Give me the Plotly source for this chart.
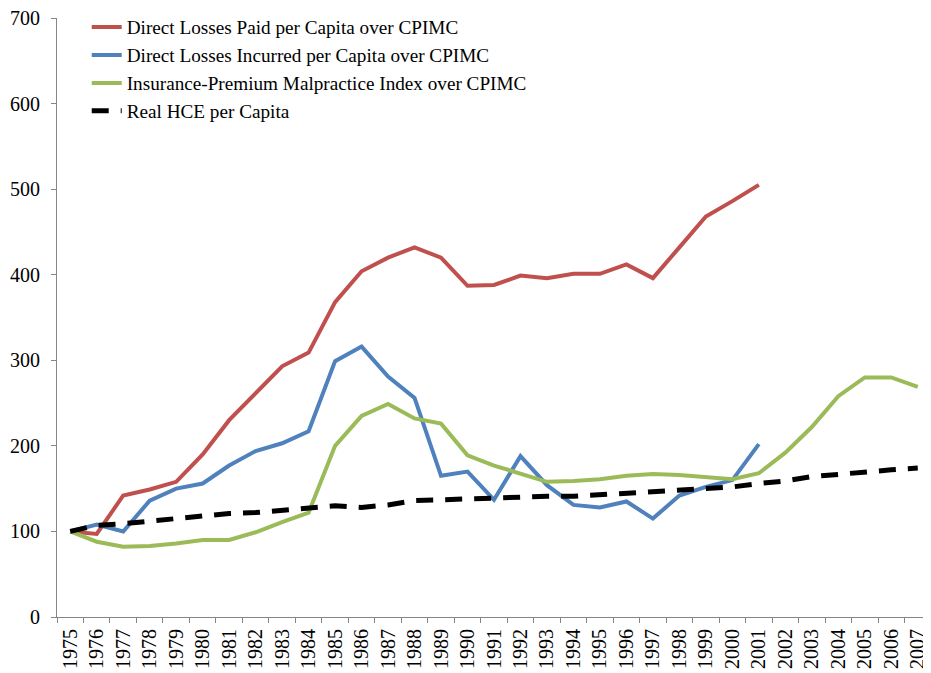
import plotly.graph_objects as go

years = [str(y) for y in range(1975, 2008)]

losses_paid = [100, 97, 142, 149, 158, 190, 230, 261, 293, 309, 368, 404, 420, 432, 420, 387, 388, 399, 396, 401, 401, 412, 396, 432, 468, 486, 505]
losses_incurred = [100, 108, 100, 136, 150, 156, 177, 194, 203, 217, 299, 316, 281, 256, 165, 170, 137, 188, 154, 131, 128, 135, 115, 142, 152, 160, 202]
premium_index = [100, 88, 82, 83, 86, 90, 90, 99, 111, 122, 200, 235, 249, 232, 226, 189, 177, 168, 158, 159, 161, 165, 167, 166, 164, 161, 168, 192, 222, 258, 280, 280, 269]
real_hce = [100, 107, 109, 112, 116, 119, 121, 122, 125, 128, 130, 128, 131, 136, 137, 138, 139, 141, 141, 141, 143, 145, 146, 148, 150, 152, 156, 159, 164, 167, 170, 172, 174]

FONT = "'Liberation Serif', 'Times New Roman', Times, 'DejaVu Serif', serif"

fig = go.Figure()
fig.add_trace(go.Scatter(x=years[:len(losses_paid)], y=losses_paid, mode="lines",
                         name="Direct Losses Paid per Capita over CPIMC",
                         line=dict(color="#C0504D", width=4), legendgroup="a"))
fig.add_trace(go.Scatter(x=years[:len(losses_incurred)], y=losses_incurred, mode="lines",
                         name="Direct Losses Incurred per Capita over CPIMC",
                         line=dict(color="#4F81BD", width=4), legendgroup="b"))
fig.add_trace(go.Scatter(x=years, y=premium_index, mode="lines",
                         name="Insurance-Premium Malpractice Index over CPIMC",
                         line=dict(color="#9BBB59", width=4), legendgroup="c"))
fig.add_trace(go.Scatter(x=years, y=real_hce, mode="lines",
                         name="Real HCE per Capita",
                         line=dict(color="black", width=5, dash="17px,12px"), legendgroup="d"))

fig.update_layout(
    width=923, height=665,
    margin=dict(l=49, r=0, t=7, b=56),
    plot_bgcolor="white", paper_bgcolor="white",
    font=dict(family=FONT, size=20, color="black"),
    showlegend=True,
    legend=dict(x=0.034, y=1.0175, xanchor="left", yanchor="top",
                font=dict(family=FONT, size=19.2, color="black"),
                bgcolor="rgba(0,0,0,0)", tracegroupgap=0),
)
fig.update_xaxes(type="category", range=[-0.5, 32.5], tickson="boundaries",
                 ticks="outside", ticklen=5, tickcolor="#868686",
                 showline=True, linecolor="#868686", linewidth=1,
                 showgrid=False, tickangle=-90, ticklabelstandoff=3,
                 tickfont=dict(family=FONT, size=20, color="black"))
fig.update_yaxes(range=[0, 700], dtick=100, ticks="outside", ticklen=5,
                 tickcolor="#868686", showline=True, linecolor="#868686", linewidth=1,
                 showgrid=False, zeroline=False, ticklabeloverflow="allow",
                 ticklabelstandoff=7,
                 tickfont=dict(family=FONT, size=20, color="black"))

fig.write_html("out.html")
